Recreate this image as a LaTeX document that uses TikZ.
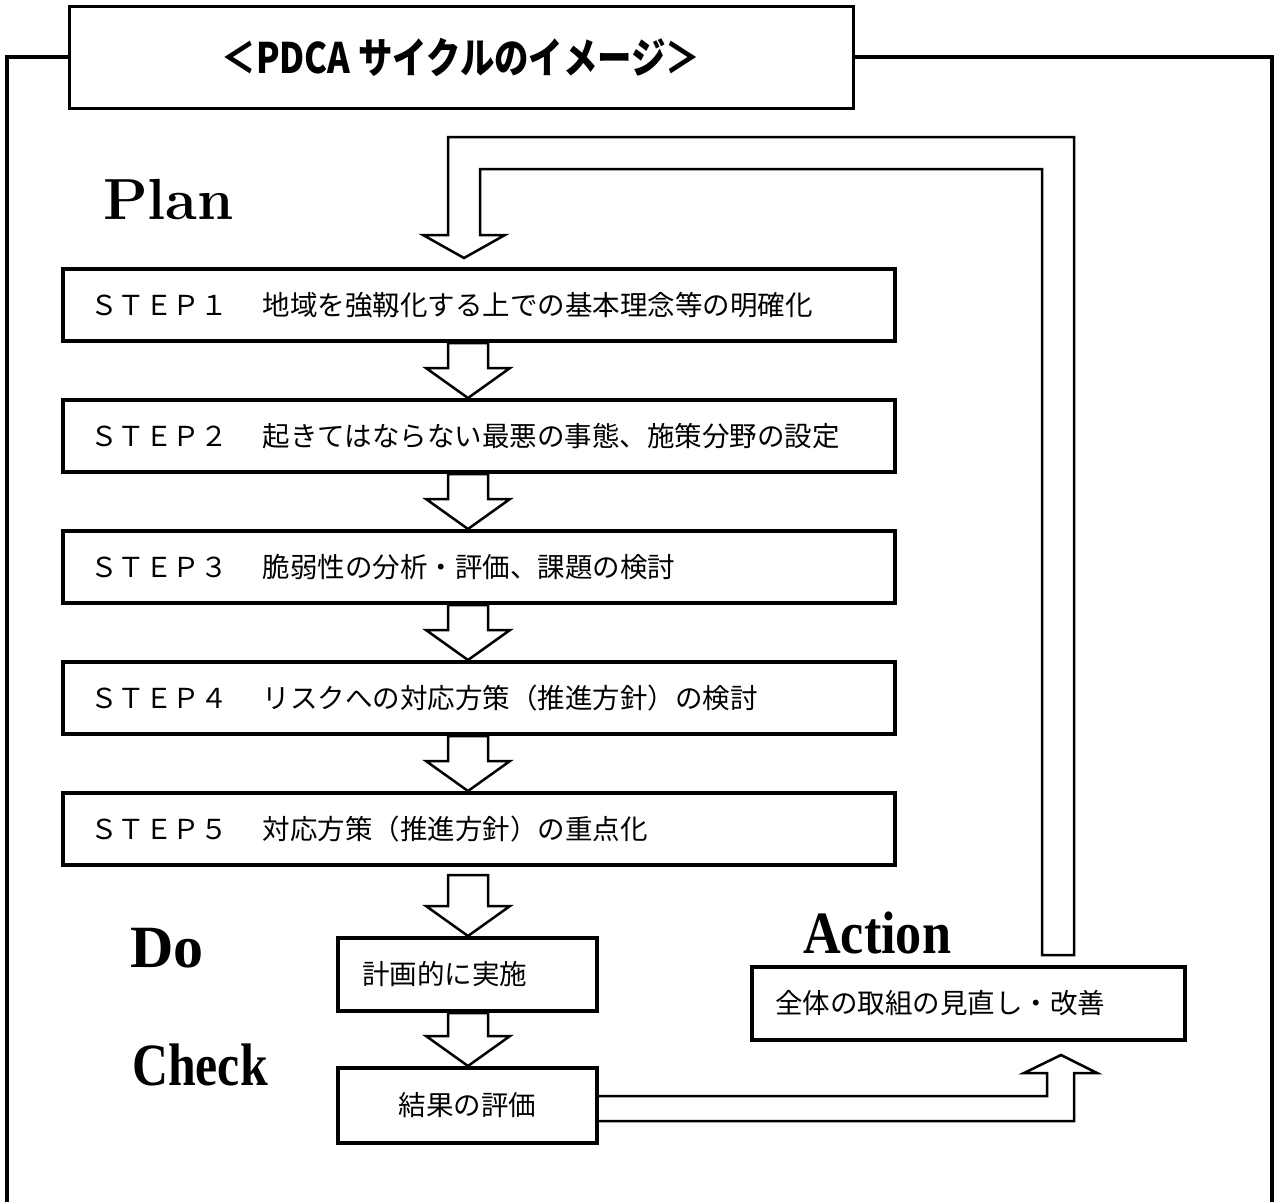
\documentclass[tikz,border=0pt]{standalone}
\usepackage{fontspec}
\usepackage{graphicx}
\usetikzlibrary{calc}
\newfontfamily\jp{Noto Sans CJK JP}
\newfontfamily\tms{Liberation Serif}
\newcommand\blockdown[3][0]{%
  \draw[barrow] let \p1=(#2.south), \p2=(#3.north) in
   (448pt,\y1-#1pt) -- (448pt,\y2+30pt) -- (426pt,\y2+30pt) -- (468pt,\y2)
   -- (510pt,\y2+30pt) -- (488pt,\y2+30pt) -- (488pt,\y1-#1pt) -- cycle;}
\begin{document}
\begin{tikzpicture}[x=1pt,y=-1pt,
  frame/.style={line width=3.5pt},
  titlebox/.style={draw, line width=3pt, fill=white, minimum width=784pt, minimum height=102pt, inner sep=0pt,
     font=\jp\bfseries\fontsize{42}{46}\selectfont},
  stepbox/.style={draw, line width=4pt, text width=778pt, inner xsep=27pt, inner ysep=0pt, minimum height=72pt,
     align=left, font=\jp\fontsize{27.5}{30}\selectfont},
  smallbox/.style={draw, line width=4pt, inner ysep=0pt, font=\jp\fontsize{27.5}{30}\selectfont},
  barrow/.style={line width=2.5pt, fill=white},
  larrow/.style={line width=2.5pt},
  lbl/.style={inner sep=0pt, anchor=base west},
  bigtm/.style={font=\tms\bfseries\fontsize{60}{66}\selectfont}
]
\useasboundingbox (0,0) rectangle (1277,1202);
% outer frame
\draw[frame] (7,1215) -- (7,57) -- (1272,57) -- (1272,1215);
% title
\node[titlebox] (title) at (461,57) {\scalebox{0.82}[1]{＜PDCA サイクルのイメージ＞}};
% step boxes
\node[stepbox] (s1) at (479,305) {ＳＴＥＰ１\hspace{8pt}　地域を強靱化する上での基本理念等の明確化};
\node[stepbox] (s2) at (479,436) {ＳＴＥＰ２\hspace{8pt}　起きてはならない最悪の事態、施策分野の設定};
\node[stepbox] (s3) at (479,567) {ＳＴＥＰ３\hspace{8pt}　脆弱性の分析・評価、課題の検討};
\node[stepbox] (s4) at (479,698) {ＳＴＥＰ４\hspace{8pt}　リスクへの対応方策（推進方針）の検討};
\node[stepbox] (s5) at (479,829) {ＳＴＥＰ５\hspace{8pt}　対応方策（推進方針）の重点化};
\node[smallbox, text width=211pt, inner xsep=24pt, minimum height=73pt, align=left] (do) at (467.5,974.5) {計画的に実施};
\node[smallbox, text width=211pt, inner xsep=24pt, minimum height=75pt, align=center] (res) at (467.5,1105.5) {結果の評価};
\node[smallbox, text width=387pt, inner xsep=23pt, minimum height=73pt, align=left] (act) at (968.5,1003.5) {全体の取組の見直し・改善};
% labels
\node[lbl, font=\bfseries\fontsize{58}{62}\selectfont] (plan) at (103,219) {Plan};
\node[lbl, bigtm] (dol) at (130,967) {Do};
\node[lbl, bigtm] (chk) at (132,1085) {\scalebox{0.83}[1]{Check}};
\node[lbl, bigtm] (actl) at (803,953) {\scalebox{0.87}[1]{Action}};
% down arrows
\blockdown{s1}{s2}
\blockdown{s2}{s3}
\blockdown{s3}{s4}
\blockdown{s4}{s5}
\blockdown[8]{s5}{do}
\blockdown{do}{res}
% loop arrow from Action back to STEP1
\draw[larrow] let \p1=(act.north), \p2=(s1.north) in
  (1042pt,\y1+10pt) -- (1042,169) -- (480,169) -- (480,235) -- (505,235)
  -- (464pt,\y2+9pt) -- (423,235) -- (448,235) -- (448,137) -- (1074,137)
  -- (1074pt,\y1+10pt) -- cycle;
% arrow from result to Action
\draw[larrow] let \p1=(res.east), \p2=(act.south) in
  (\x1-2pt,-1096pt) -- (1047,1096) -- (1047,1073) -- (1024,1073) -- (1061pt,\y2-13pt)
  -- (1097,1073) -- (1074,1073) -- (1074,1121) -- (\x1-2pt,-1121pt);
\end{tikzpicture}
\end{document}
